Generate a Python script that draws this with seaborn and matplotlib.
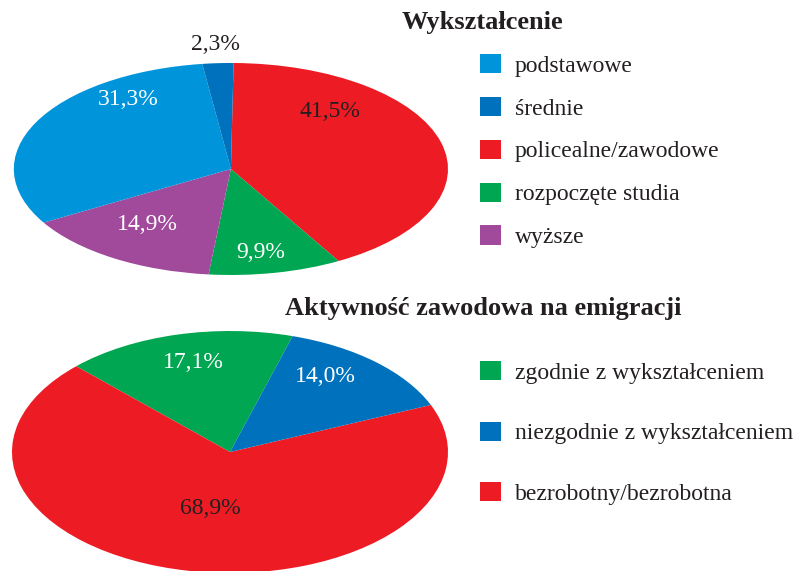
import seaborn as sns
import matplotlib.pyplot as plt
from matplotlib.patches import Patch

# Data
edu_labels = ["podstawowe", "średnie", "policealne/zawodowe", "rozpoczęte studia", "wyższe"]
edu_values = [31.3, 2.3, 41.5, 9.9, 14.9]
edu_colors = ["#0095DA", "#0071BC", "#ED1C24", "#00A651", "#A1499B"]

job_labels = ["zgodnie z wykształceniem", "niezgodnie z wykształceniem", "bezrobotny/bezrobotna"]
job_values = [17.1, 14.0, 68.9]
job_colors = ["#00A651", "#0071BC", "#ED1C24"]

title_top = "Wykształcenie"
title_bottom = "Aktywność zawodowa na emigracji"

sns.set_style("white")
plt.rcParams["font.family"] = ["Liberation Serif", "DejaVu Serif"]

dark = "#231F20"

def fmt(v):
    return f"{v:.1f}".replace(".", ",") + "%"

fig = plt.figure(figsize=(8.04, 5.71), dpi=100)

# ---- top pie (clockwise from 12 o'clock: red, green, purple, light blue, dark blue)
ax1 = fig.add_axes([0.0172, 0.5184, 0.540, 0.3713])
order1 = [2, 3, 4, 0, 1]
ax1.pie([edu_values[i] for i in order1], colors=[edu_colors[i] for i in order1],
        startangle=89.3, counterclock=False, radius=1,
        wedgeprops=dict(linewidth=0))
ax1.set_aspect("auto")
ax1.set_xlim(-1, 1)
ax1.set_ylim(-1, 1)
ax1.axis("off")

# label positions (ellipse coords) and text colours
pos1 = {0: (-0.474, 0.651), 1: (-0.073, 1.17), 2: (0.457, 0.547), 3: (0.135, -0.792), 4: (-0.386, -0.528)}
col1 = {0: "white", 1: dark, 2: dark, 3: "white", 4: "white"}
for i, v in enumerate(edu_values):
    x, y = pos1[i]
    ax1.text(x, y, fmt(v), ha="center", va="center", fontsize=17, color=col1[i])

# ---- bottom pie
ax2 = fig.add_axes([0.0149, -0.0035, 0.5423, 0.4238])
order2 = [0, 2, 1]
ax2.pie([job_values[i] for i in order2], colors=[job_colors[i] for i in order2],
        startangle=73.3, counterclock=True, radius=1,
        wedgeprops=dict(linewidth=0))
ax2.set_aspect("auto")
ax2.set_xlim(-1, 1)
ax2.set_ylim(-1, 1)
ax2.axis("off")

pos2 = {0: (-0.17, 0.736), 1: (0.436, 0.628), 2: (-0.092, -0.463)}
col2 = {0: "white", 1: "white", 2: dark}
for i, v in enumerate(job_values):
    x, y = pos2[i]
    ax2.text(x, y, fmt(v), ha="center", va="center", fontsize=17, color=col2[i])

# ---- titles
fig.text(482 / 804, 1 - 22 / 571, title_top, ha="center", va="center",
         fontsize=19, fontweight="bold", color=dark)
fig.text(483 / 804, 1 - 308 / 571, title_bottom, ha="center", va="center",
         fontsize=19, fontweight="bold", color=dark)

# ---- legends
h1 = [Patch(facecolor=c, edgecolor="none") for c in edu_colors]
fig.legend(h1, edu_labels, loc="upper left", bbox_to_anchor=(480 / 804, 1 - 54 / 571),
           frameon=False, fontsize=17, handlelength=0.875, handleheight=0.875,
           handletextpad=0.6, labelspacing=0.85, borderpad=0, borderaxespad=0,
           labelcolor=dark)

h2 = [Patch(facecolor=c, edgecolor="none") for c in job_colors]
fig.legend(h2, job_labels, loc="upper left", bbox_to_anchor=(480 / 804, 1 - 361 / 571),
           frameon=False, fontsize=17, handlelength=0.875, handleheight=0.875,
           handletextpad=0.6, labelspacing=1.6, borderpad=0, borderaxespad=0,
           labelcolor=dark)

fig.savefig("out.png", dpi=100)
